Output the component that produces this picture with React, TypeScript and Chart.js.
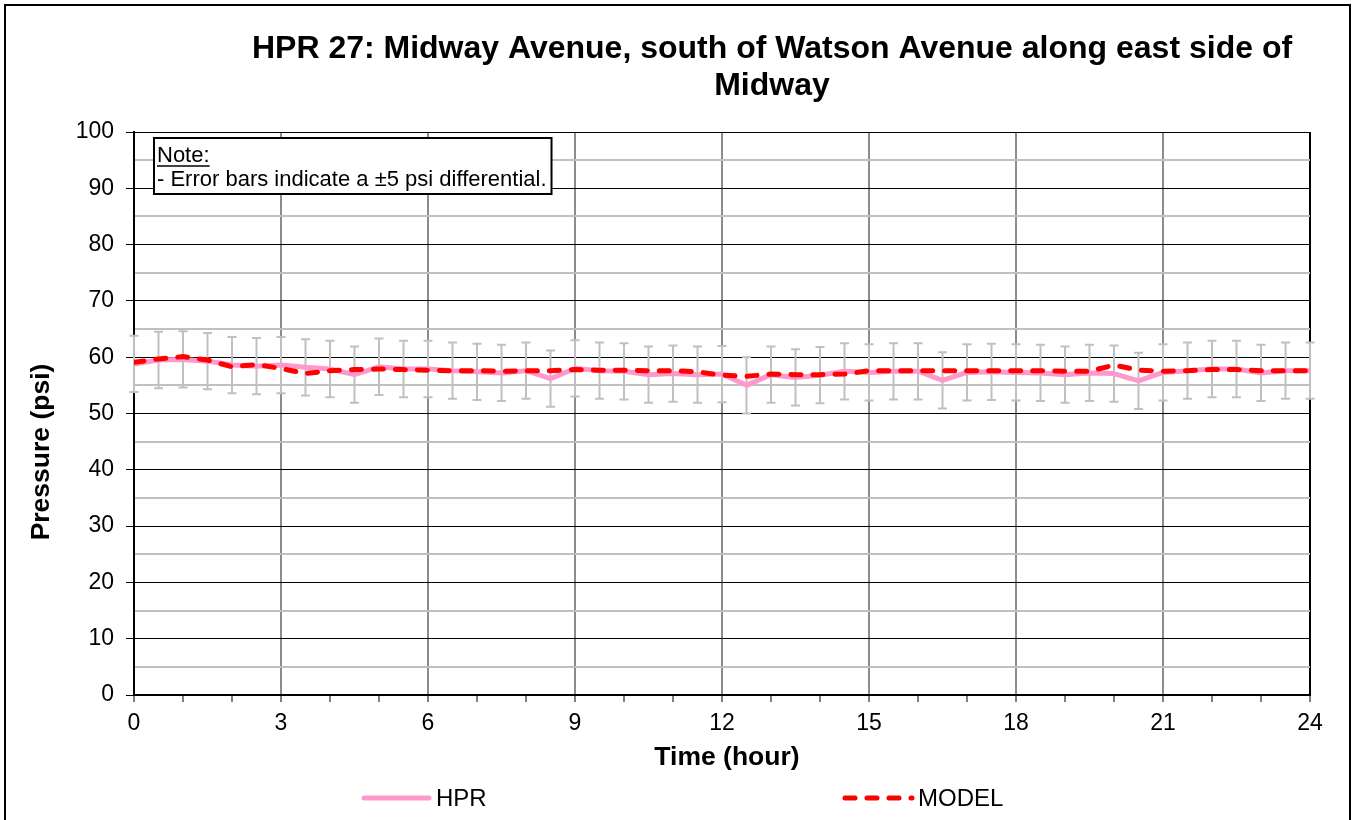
import { useEffect, useRef } from 'react';
import { Chart, registerables } from 'chart.js';

Chart.register(...registerables);

const HOURS = [
  0, 0.5, 1, 1.5, 2, 2.5, 3, 3.5, 4, 4.5, 5, 5.5, 6, 6.5, 7, 7.5, 8, 8.5, 9, 9.5,
  10, 10.5, 11, 11.5, 12, 12.5, 13, 13.5, 14, 14.5, 15, 15.5, 16, 16.5, 17, 17.5,
  18, 18.5, 19, 19.5, 20, 20.5, 21, 21.5, 22, 22.5, 23, 23.5, 24,
];

const HPR = [
  58.8, 59.5, 59.6, 59.3, 58.6, 58.4, 58.6, 58.2, 57.9, 56.9, 58.3, 57.9, 57.9, 57.6,
  57.4, 57.2, 57.6, 56.2, 58.0, 57.6, 57.5, 56.9, 57.1, 56.9, 57.0, 55.0, 56.9, 56.4,
  56.8, 57.5, 57.3, 57.5, 57.5, 55.9, 57.3, 57.4, 57.3, 57.2, 56.9, 57.2, 57.1, 55.8,
  57.3, 57.6, 57.9, 57.9, 57.2, 57.6, 57.6,
];

const MODEL = [
  59.1, 59.7, 60.1, 59.5, 58.3, 58.7, 58.0, 57.1, 57.6, 57.8, 57.9, 57.8, 57.7, 57.6,
  57.6, 57.5, 57.6, 57.6, 57.8, 57.7, 57.7, 57.6, 57.6, 57.4, 56.8, 56.6, 57.0, 56.9,
  56.9, 57.0, 57.6, 57.6, 57.6, 57.6, 57.6, 57.6, 57.6, 57.6, 57.5, 57.5, 58.6, 57.7,
  57.5, 57.6, 57.8, 57.8, 57.6, 57.6, 57.6,
];

const ERROR_PSI = 5;
const TITLE_LINES = ['HPR 27: Midway Avenue, south of Watson Avenue along east side of', 'Midway'];
const NOTE_LINES = ['Note:', '- Error bars indicate a \u00b15 psi differential.'];
const X_TITLE = 'Time (hour)';
const Y_TITLE = 'Pressure (psi)';
const SERIES_NAMES = ['HPR', 'MODEL'];

const FONT = '"Liberation Sans", Arial, sans-serif';
const PINK = '#ff99cc';
const RED = '#ff0000';
const MODEL_DASH = [10, 12];

const decorPlugin = {
  id: 'decor',
  beforeDatasetsDraw(chart: any) {
    const { ctx, scales } = chart;
    const xs = scales.x;
    const ys = scales.y;
    ctx.save();
    ctx.strokeStyle = '#c0c0c0';
    ctx.lineWidth = 2;
    HOURS.forEach((h, i) => {
      const x = xs.getPixelForValue(h);
      const y1 = ys.getPixelForValue(HPR[i] + ERROR_PSI);
      const y2 = ys.getPixelForValue(HPR[i] - ERROR_PSI);
      ctx.beginPath();
      ctx.moveTo(x, y1);
      ctx.lineTo(x, y2);
      ctx.moveTo(x - 4.5, y1);
      ctx.lineTo(x + 4.5, y1);
      ctx.moveTo(x - 4.5, y2);
      ctx.lineTo(x + 4.5, y2);
      ctx.stroke();
    });
    ctx.restore();
  },
  afterDatasetsDraw(chart: any) {
    const { ctx, chartArea } = chart;
    ctx.save();
    ctx.font = `22px ${FONT}`;
    const w = Math.max(...NOTE_LINES.map((t) => ctx.measureText(t).width)) + 8;
    const left = chartArea.left + 20;
    const top = chartArea.top + 6;
    const h = 56;
    ctx.fillStyle = '#fff';
    ctx.fillRect(left, top, w, h);
    ctx.strokeStyle = '#000';
    ctx.lineWidth = 2;
    ctx.strokeRect(left, top, w, h);
    ctx.fillStyle = '#000';
    ctx.textBaseline = 'middle';
    ctx.textAlign = 'left';
    ctx.fillText(NOTE_LINES[0], left + 3, top + 18);
    const nw = ctx.measureText(NOTE_LINES[0]).width;
    ctx.lineWidth = 1.5;
    ctx.beginPath();
    ctx.moveTo(left + 3, top + 28);
    ctx.lineTo(left + 3 + nw, top + 28);
    ctx.stroke();
    ctx.fillText(NOTE_LINES[1], left + 3, top + 42);
    ctx.restore();
  },
  afterDraw(chart: any) {
    const { ctx } = chart;
    ctx.save();
    // outer frame
    ctx.strokeStyle = '#000';
    ctx.lineWidth = 2;
    ctx.strokeRect(5, 5, 1345, 840);
    // title
    ctx.fillStyle = '#000';
    ctx.textAlign = 'center';
    ctx.textBaseline = 'middle';
    ctx.font = `bold 32px ${FONT}`;
    ctx.fillText(TITLE_LINES[0], 772, 49);
    ctx.fillText(TITLE_LINES[1], 772, 86);
    // axis titles
    ctx.font = `bold 26.5px ${FONT}`;
    ctx.fillText(X_TITLE, 727, 758);
    ctx.save();
    ctx.translate(42, 452);
    ctx.rotate(-Math.PI / 2);
    ctx.fillText(Y_TITLE, 0, 0);
    ctx.restore();
    // legend
    const ly = 798;
    ctx.lineCap = 'round';
    ctx.lineWidth = 5;
    ctx.strokeStyle = PINK;
    ctx.beginPath();
    ctx.moveTo(364, ly);
    ctx.lineTo(429, ly);
    ctx.stroke();
    ctx.strokeStyle = RED;
    ctx.setLineDash(MODEL_DASH);
    ctx.beginPath();
    ctx.moveTo(845, ly);
    ctx.lineTo(912, ly);
    ctx.stroke();
    ctx.setLineDash([]);
    ctx.font = `24px ${FONT}`;
    ctx.textAlign = 'left';
    ctx.fillStyle = '#000';
    ctx.fillText(SERIES_NAMES[0], 436, ly + 1);
    ctx.fillText(SERIES_NAMES[1], 918, ly + 1);
    ctx.restore();
  },
};

export default function App() {
  const ref = useRef<HTMLCanvasElement>(null);
  useEffect(() => {
    if (!ref.current) return;
    const chart = new Chart(ref.current, {
      type: 'line',
      data: {
        datasets: [
          {
            label: SERIES_NAMES[1],
            data: HOURS.map((h, i) => ({ x: h, y: MODEL[i] })),
            borderColor: RED,
            borderWidth: 5,
            borderDash: MODEL_DASH,
            borderCapStyle: 'round',
            pointRadius: 0,
            tension: 0,
            fill: false,
            order: 0,
          },
          {
            label: SERIES_NAMES[0],
            data: HOURS.map((h, i) => ({ x: h, y: HPR[i] })),
            borderColor: PINK,
            borderWidth: 5,
            borderJoinStyle: 'round',
            pointRadius: 0,
            tension: 0,
            fill: false,
            order: 1,
          },
        ],
      },
      options: {
        responsive: false,
        animation: false,
        devicePixelRatio: 1,
        layout: { padding: { top: 132, left: 0, right: 42, bottom: 0 } },
        plugins: {
          legend: { display: false },
          title: { display: false },
          tooltip: { enabled: false },
        },
        scales: {
          x: {
            type: 'linear',
            min: 0,
            max: 24,
            afterFit: (s: any) => {
              s.height = 125;
            },
            ticks: {
              stepSize: 1,
              autoSkip: false,
              maxRotation: 0,
              padding: 8,
              color: '#000',
              font: { size: 23, family: FONT },
              callback: (v: any) => (Number(v) % 3 === 0 ? String(v) : ''),
            },
            grid: {
              color: (c: any) =>
                c.tick && c.tick.value === 24 ? '#000' : c.tick && c.tick.value % 3 === 0 ? '#8c8c8c' : 'rgba(0,0,0,0)',
              lineWidth: 2,
              tickColor: '#000',
              tickWidth: 1,
              tickLength: 7,
            },
            border: { color: '#000', width: 2 },
          },
          y: {
            type: 'linear',
            min: 0,
            max: 100,
            afterFit: (s: any) => {
              s.width = 134;
            },
            ticks: {
              stepSize: 5,
              autoSkip: false,
              padding: 12,
              color: '#000',
              font: { size: 23, family: FONT },
              callback: (v: any) => (Number(v) % 10 === 0 ? String(v) : ''),
            },
            grid: {
              color: (c: any) => (c.tick && c.tick.value % 10 === 0 ? '#000' : '#c0c0c0'),
              lineWidth: (c: any) => (c.tick && c.tick.value % 10 === 0 ? 1 : 2),
              tickColor: (c: any) => (c.tick && c.tick.value % 10 === 0 ? '#000' : 'rgba(0,0,0,0)'),
              tickWidth: 1,
              tickLength: 8,
            },
            border: { color: '#000', width: 2 },
          },
        },
      },
      plugins: [decorPlugin],
    });
    return () => chart.destroy();
  }, []);
  return (
    <div
      style={{
        position: 'absolute',
        left: 0,
        top: 0,
        width: 1352,
        height: 820,
        overflow: 'hidden',
        background: '#fff',
      }}
    >
      <canvas ref={ref} width={1352} height={820} style={{ display: 'block' }} />
    </div>
  );
}
